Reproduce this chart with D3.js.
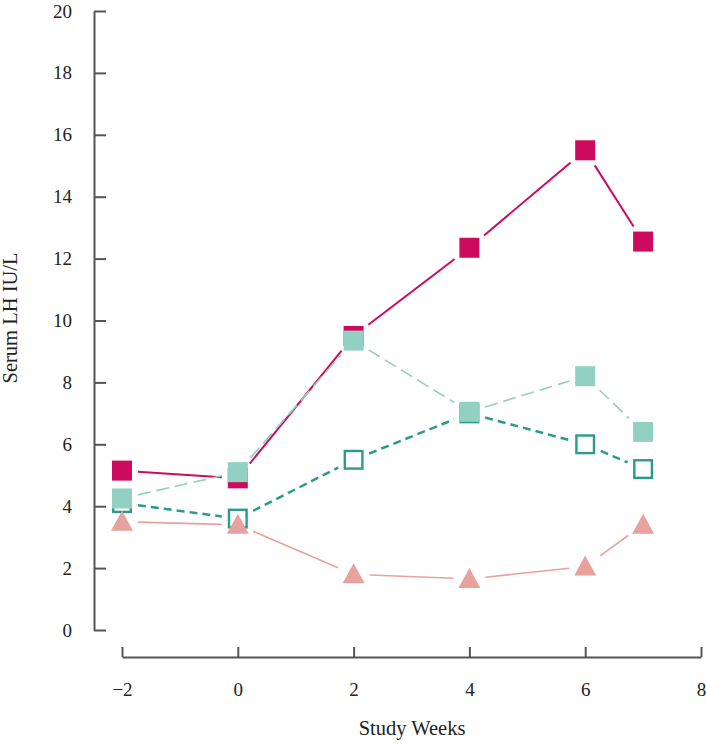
<!DOCTYPE html>
<html><head><meta charset="utf-8">
<script src="https://cdn.jsdelivr.net/npm/d3@7"></script>
<style>body{margin:0;background:#fff}svg{display:block}text{font-family:"Liberation Serif","DejaVu Serif",serif;fill:#222}</style>
</head><body>
<svg id="c" width="706" height="744"></svg>
<script>
const weeks = [-2, 0, 2, 4, 6, 7];
const seriesA = [5.15, 4.9, 9.5, 12.35, 15.5, 12.55];   // crimson filled squares, solid
const seriesB = [4.25, 5.1, 9.35, 7.05, 8.2, 6.4];      // light teal filled squares, long dash
const seriesC = [4.1, 3.6, 5.5, 7.0, 6.0, 5.2];         // teal open squares, dashed
const seriesD = [3.5, 3.4, 1.8, 1.65, 2.05, 3.4];       // salmon triangles, solid
const xTicks = [-2, 0, 2, 4, 6, 8];
const yTicks = [0, 2, 4, 6, 8, 10, 12, 14, 16, 18, 20];

const svg = d3.select("#c");
const x = d3.scaleLinear().domain([-2, 8]).range([122, 701]);
const y = d3.scaleLinear().domain([0, 20]).range([630, 11]);
const axisColor = "#555";
const fs = 19;

// Y axis
const gy = svg.append("g").attr("transform", "translate(94,0)")
  .call(d3.axisLeft(y).tickValues(yTicks).tickSizeInner(-12).tickSizeOuter(0).tickPadding(22).tickFormat(d3.format("d")));
// X axis
const gx = svg.append("g").attr("transform", "translate(0,657)")
  .call(d3.axisBottom(x).tickValues(xTicks).tickSizeInner(-10).tickSizeOuter(0).tickPadding(26)
    .tickFormat(d => d < 0 ? "\u2212" + Math.abs(d) : d));
[gx, gy].forEach(g => {
  g.select(".domain").attr("stroke", axisColor).attr("stroke-width", 2);
  g.selectAll(".tick line").attr("stroke", axisColor).attr("stroke-width", 2);
  g.selectAll(".tick text").attr("font-size", fs).attr("fill", "#222")
    .attr("font-family", "'Liberation Serif','DejaVu Serif',serif");
});

svg.append("text").attr("x", 412).attr("y", 735).attr("text-anchor", "middle").attr("font-size", 20.5).text("Study Weeks");
svg.append("text").attr("transform", "translate(17,318) rotate(-90)").attr("text-anchor", "middle").attr("font-size", 20.5).text("Serum LH IU/L");

const series = [
  {vals: seriesC, color: "#2a9a8a", width: 2.5, dash: "8,5", marker: "open"},
  {vals: seriesA, color: "#cc0a5e", width: 2, dash: null, marker: "square"},
  {vals: seriesB, color: "#92d0c2", width: 1.6, dash: "13,6", marker: "square"},
  {vals: seriesD, color: "#e8a29d", width: 1.6, dash: null, marker: "tri"}
];

function gapDist(dx, dy) {
  const len = Math.hypot(dx, dy);
  const c = Math.abs(dx) / len, s = Math.abs(dy) / len;
  return 10 / Math.max(c, s) + 6;
}

const half = 10;
series.forEach(sr => {
  const pts = weeks.map((w, i) => [x(w), y(sr.vals[i])]);
  const g = svg.append("g");
  for (let i = 0; i < pts.length - 1; i++) {
    const [x0, y0] = pts[i], [x1, y1] = pts[i + 1];
    const dx = x1 - x0, dy = y1 - y0, len = Math.hypot(dx, dy);
    const d0 = gapDist(dx, dy), d1 = gapDist(dx, dy);
    const ux = dx / len, uy = dy / len;
    const l = g.append("line")
      .attr("x1", x0 + ux * d0).attr("y1", y0 + uy * d0)
      .attr("x2", x1 - ux * d1).attr("y2", y1 - uy * d1)
      .attr("stroke", sr.color).attr("stroke-width", sr.width);
    if (sr.dash) l.attr("stroke-dasharray", sr.dash);
  }
  pts.forEach(([px, py]) => {
    if (sr.marker === "tri") {
      g.append("path").attr("d", `M${px},${py - 11}L${px + 11},${py + 9}L${px - 11},${py + 9}Z`).attr("fill", sr.color);
    } else if (sr.marker === "open") {
      g.append("rect").attr("x", px - half + 1.2).attr("y", py - half + 1.2).attr("width", 2 * half - 2.4).attr("height", 2 * half - 2.4)
        .attr("fill", "#fff").attr("stroke", sr.color).attr("stroke-width", 2.4);
    } else {
      g.append("rect").attr("x", px - half).attr("y", py - half).attr("width", 2 * half).attr("height", 2 * half).attr("fill", sr.color);
    }
  });
});
</script>
</body></html>
